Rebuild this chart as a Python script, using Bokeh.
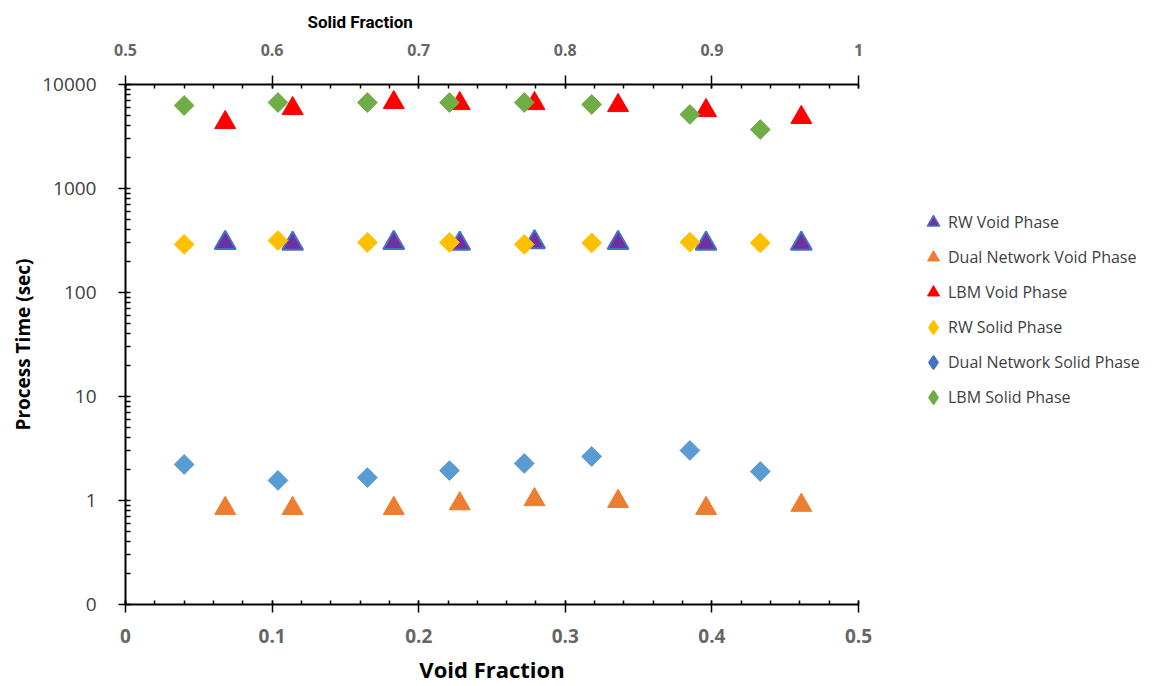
import numpy as np
from bokeh.plotting import figure
from bokeh.models import (Range1d, LinearAxis, LogAxis, FixedTicker, SingleIntervalTicker,
                          CustomJSTickFormatter, Legend, LegendItem, ColumnDataSource, Title)
from bokeh.embed import file_html
from bokeh.resources import INLINE

# ---------------- data ----------------
void_fraction = [0.068, 0.114, 0.183, 0.228, 0.279, 0.336, 0.396, 0.461]
solid_fraction = [0.540, 0.604, 0.665, 0.721, 0.772, 0.818, 0.885, 0.933]

rw_void = [300, 295, 300, 295, 305, 300, 295, 295]
dual_void = [0.84, 0.84, 0.84, 0.93, 1.02, 0.98, 0.84, 0.90]
lbm_void = [4310, 5880, 6710, 6560, 6560, 6280, 5620, 4820]

rw_solid = [290, 316, 303, 303, 290, 300, 305, 300]
dual_solid = [2.22, 1.56, 1.66, 1.94, 2.27, 2.65, 3.03, 1.90]
lbm_solid = [6280, 6710, 6710, 6710, 6710, 6420, 5150, 3690]

y_ticks = [0.1, 1, 10, 100, 1000, 10000]
series_names = ["RW Void Phase", "Dual Network Void Phase", "LBM Void Phase",
                "RW Solid Phase", "Dual Network Solid Phase", "LBM Solid Phase"]

# ---------------- figure ----------------
p = figure(frame_width=733, frame_height=520, output_backend="svg", toolbar_location=None,
           x_range=Range1d(0, 0.5), y_range=Range1d(0.1, 10000), y_axis_type="log",
           min_border_left=125, min_border_top=84, min_border_bottom=82, min_border_right=295,
           x_axis_location=None, y_axis_location=None)
p.extra_x_ranges = {"solid": Range1d(0.5, 1.0)}
p.outline_line_color = None
p.xgrid.visible = False
p.ygrid.visible = False
p.background_fill_color = "white"
p.border_fill_color = "white"

fmt_x = CustomJSTickFormatter(code="return Number(tick.toFixed(2)).toString();")
fmt_y = CustomJSTickFormatter(code="return tick < 0.5 ? '0' : Math.round(tick).toString();")

minor_y = [k * 10.0 ** d for d in range(-1, 4) for k in range(2, 10)]

xb = LinearAxis(ticker=SingleIntervalTicker(interval=0.1, num_minor_ticks=5), formatter=fmt_x,
                axis_label="Void Fraction")
xt = LinearAxis(x_range_name="solid", ticker=SingleIntervalTicker(interval=0.1, num_minor_ticks=5),
                formatter=fmt_x)
yl = LogAxis(ticker=FixedTicker(ticks=y_ticks, minor_ticks=minor_y), formatter=fmt_y,
             axis_label="Process Time (sec)")

for ax in (xb, xt, yl):
    ax.axis_line_width = 2
    ax.axis_line_color = "black"
    ax.major_tick_line_color = "black"
    ax.minor_tick_line_color = "black"
    ax.major_tick_line_width = 1.5
    ax.minor_tick_line_width = 1.5
    ax.minor_tick_out = 0
    ax.minor_tick_in = 4
    ax.axis_label_text_font_style = "bold"
    ax.axis_label_text_color = "black"

xb.major_tick_out = 8
xb.major_tick_in = 4
xb.major_label_text_font = "Open Sans"
xb.major_label_text_font_style = "bold"
xb.major_label_text_font_size = "19px"
xb.major_label_text_color = "#666666"
xb.major_label_standoff = 16
xb.axis_label_text_font = "Open Sans"
xb.axis_label_text_font_size = "22px"
xb.axis_label_standoff = 8

xt.major_tick_out = 9
xt.major_tick_in = 4
xt.major_label_text_font = "Open Sans"
xt.major_label_text_font_style = "bold"
xt.major_label_text_font_size = "16px"
xt.major_label_text_color = "#666666"
xt.major_label_standoff = 20

yl.major_tick_out = 7
yl.major_tick_in = 5
yl.minor_tick_in = 5
yl.major_label_text_font = "Open Sans"
yl.major_label_text_font_size = "19px"
yl.major_label_text_color = "#404040"
yl.major_label_standoff = 22
yl.axis_label_text_font = "Open Sans"
yl.axis_label_text_font_size = "19px"
yl.axis_label_standoff = 3

p.add_layout(xb, "below")
p.add_layout(xt, "above")
p.add_layout(yl, "left")

# top-axis title, placed left of centre as in the original
top_title = Title(text="Solid Fraction", align="left", offset=182, standoff=18,
                  text_font="Roboto", text_font_size="17px", text_font_style="bold",
                  text_color="black")
p.add_layout(top_title, "above")

# ---------------- glyphs ----------------
TRI = 21
DIA = 14
ANG = np.pi / 4

p.scatter(void_fraction, rw_void, marker="triangle", size=TRI,
          fill_color="#7030A0", line_color="#4472C4", line_width=2)
p.scatter(void_fraction, dual_void, marker="triangle", size=TRI,
          fill_color="#ED7D31", line_color="#ED7D31", line_width=1)
p.scatter(void_fraction, lbm_void, marker="triangle", size=TRI,
          fill_color="#FF0000", line_color="#FF0000", line_width=1)
p.scatter(solid_fraction, rw_solid, marker="square", size=DIA, angle=ANG, x_range_name="solid",
          fill_color="#FFC000", line_color="#FFC000", line_width=1)
p.scatter(solid_fraction, dual_solid, marker="square", size=DIA, angle=ANG, x_range_name="solid",
          fill_color="#5B9BD5", line_color="#5B9BD5", line_width=1)
p.scatter(solid_fraction, lbm_solid, marker="square", size=DIA, angle=ANG, x_range_name="solid",
          fill_color="#70AD47", line_color="#70AD47", line_width=1)

# ---------------- legend (styled as in the original legend) ----------------
leg_styles = [("triangle", "#7030A0", "#4472C4", 1.5),
              ("triangle", "#ED7D31", "#ED7D31", 1),
              ("triangle", "#FF0000", "#FF0000", 1),
              ("diamond", "#FFC000", "#FFC000", 2.5),
              ("diamond", "#4472C4", "#4472C4", 2.5),
              ("diamond", "#70AD47", "#70AD47", 2.5)]

items = []
for name, (mk, fc, lc, lw) in zip(series_names, leg_styles):
    r = p.scatter("x", "y", source=ColumnDataSource(dict(x=[float("nan")], y=[float("nan")])),
                  marker=mk, fill_color=fc, line_color=lc, line_width=lw, line_join="round")
    items.append(LegendItem(label=name, renderers=[r], index=0))

leg = Legend(items=items, location=(60, 192), glyph_width=30, glyph_height=30,
             label_height=20, spacing=5, label_standoff=-2)
leg.padding = 0
leg.margin = 0
leg.border_line_color = None
leg.background_fill_alpha = 0
leg.label_text_font = "Open Sans"
leg.label_text_font_size = "16px"
leg.label_text_color = "#404040"
p.add_layout(leg, "right")

open("out.html", "w").write(file_html(p, INLINE))
